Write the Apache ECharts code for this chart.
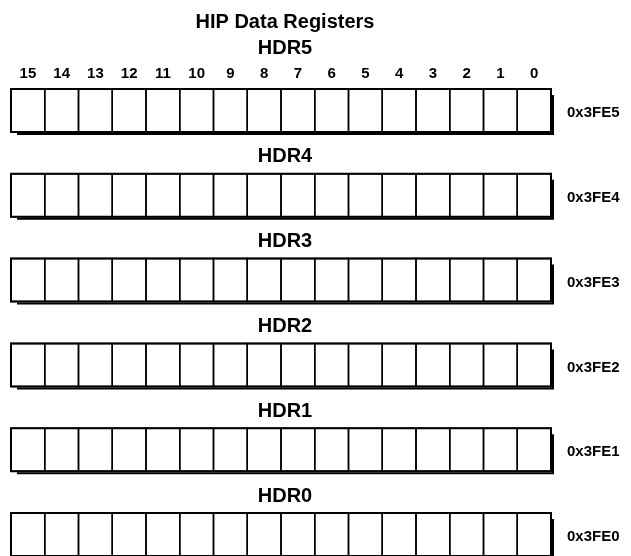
<!DOCTYPE html>
<html>
<head>
<meta charset="utf-8">
<script src="https://cdn.jsdelivr.net/npm/echarts@6/dist/echarts.min.js"></script>
<style>html,body{margin:0;padding:0;background:#fff}#c{width:631px;height:556px}</style>
</head>
<body>
<div id="c"></div>
<script>
var bits = ['15','14','13','12','11','10','9','8','7','6','5','4','3','2','1','0'];
var registers = ['HDR5','HDR4','HDR3','HDR2','HDR1','HDR0'];
var addresses = ['0x3FE5','0x3FE4','0x3FE3','0x3FE2','0x3FE1','0x3FE0'];
var titleText = 'HIP Data Registers';

var FONT = '"Liberation Sans", Arial, Helvetica, sans-serif';
var BOX_H = 0.507;

var cellData = [];
registers.forEach(function (r, ri) {
  bits.forEach(function (b, bi) { cellData.push([bi, ri]); });
});
var regData = registers.map(function (r, ri) { return [ri, r, addresses[ri]]; });

var chart = echarts.init(document.getElementById('c'), null, {renderer: 'canvas'});
chart.setOption({
  animation: false,
  backgroundColor: '#ffffff',
  title: {
    text: titleText, left: 280, top: 7, textAlign: 'center',
    textStyle: {fontFamily: FONT, fontWeight: 'bold', fontSize: 20, color: '#000'}
  },
  grid: {left: 11, top: 89, width: 540, bottom: 0, containLabel: false},
  xAxis: {
    type: 'category', data: bits, position: 'top',
    axisLine: {show: false}, axisTick: {show: false}, splitLine: {show: false},
    axisLabel: {margin: 8, fontFamily: FONT, fontWeight: 'bold', fontSize: 15, color: '#000'}
  },
  yAxis: {type: 'value', min: 0, max: 5.507, inverse: true, show: false},
  series: [{
    type: 'custom',
    data: regData,
    clip: false,
    renderItem: function (params, api) {
      var ri = api.value(0);
      var tl = api.coord([0, ri]);
      var w = api.size([1, 0])[0];
      var left = tl[0] - w / 2;
      var right = left + w * bits.length;
      var top = tl[1];
      var bottom = api.coord([0, ri + BOX_H])[1];
      var labelY = ri === 0 ? top - 41 : top - 17;
      return {
        type: 'group',
        children: [
          {type: 'polyline', shape: {points: [[left + 6, bottom + 2], [right + 2, bottom + 2], [right + 2, top + 6]]},
           style: {stroke: '#000', lineWidth: 2, fill: null}},
          {type: 'rect', shape: {x: left, y: top, width: right - left, height: bottom - top},
           style: {fill: '#fff', stroke: '#000', lineWidth: 2}},
          {type: 'text', x: (left + right) / 2 + 4, y: labelY,
           style: {text: registers[ri], fontFamily: FONT, fontWeight: 'bold', fontSize: 20, fill: '#000', align: 'center', verticalAlign: 'middle'}},
          {type: 'text', x: right + 16, y: top + 24,
           style: {text: addresses[ri], fontFamily: FONT, fontWeight: 'bold', fontSize: 15, fill: '#000', align: 'left', verticalAlign: 'middle'}}
        ]
      };
    }
  }, {
    type: 'custom',
    data: cellData,
    z: 3,
    clip: false,
    renderItem: function (params, api) {
      var bi = api.value(0), ri = api.value(1);
      var c = api.coord([bi, ri]);
      var w = api.size([1, 0])[0];
      var bottom = api.coord([bi, ri + BOX_H])[1];
      return {
        type: 'rect',
        shape: {x: c[0] - w / 2, y: c[1], width: w, height: bottom - c[1]},
        style: {fill: null, stroke: '#000', lineWidth: 1.5}
      };
    }
  }]
});
</script>
</body>
</html>
